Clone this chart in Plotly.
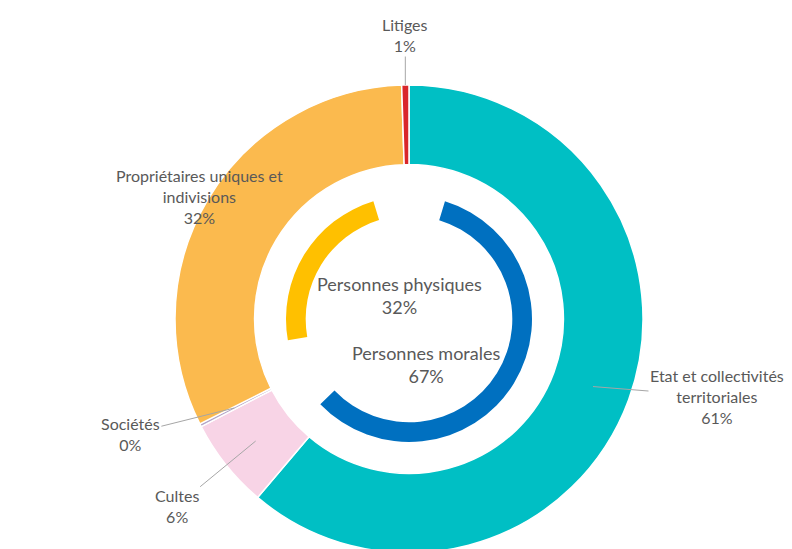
import math
import plotly.graph_objects as go

# ---------------- data ----------------
outer_labels = ["Etat et collectivités<br>territoriales", "Cultes", "Sociétés",
                "Propriétaires uniques et<br>indivisions", "Litiges"]
outer_values = [61.2, 6.2, 0.2, 31.9, 0.5]
outer_pct_text = ["61%", "6%", "0%", "32%", "1%"]
outer_colors = ["#00BFC4", "#F8D4E6", "#B4A7C9", "#FBBA4E", "#D9262B"]

inner_labels = ["Personnes morales", "", "Personnes physiques", ""]
inner_arc = [58.1, 9.4, 23.1, 9.4]
inner_pct_text = ["67%", "", "32%", ""]
inner_colors = ["#0070C0", "rgba(0,0,0,0)", "#FFC000", "rgba(0,0,0,0)"]

# ---------------- geometry / style ----------------
W, H = 792, 549
OFF = 8                    # page body margin
CX, CY = 409, 319          # pie centre in screen px (from top-left)
R_OUT = 234
HOLE_OUT = 0.66
R_IN = 123
HOLE_IN = 0.84
OUTER_ROT = 0
INNER_ROT = 17
TXT = "#595959"
FONT = "Lato"


def to_paper(sx, sy):
    return (sx - OFF) / W, 1 - (sy - OFF) / H


def dom(r):
    x0, y0 = to_paper(CX - r, CY + r)
    x1, y1 = to_paper(CX + r, CY - r)
    return dict(x=[max(0, x0), min(1, x1)], y=[max(0, y0), min(1, y1)])


fig = go.Figure()
fig.add_trace(go.Pie(
    labels=[l.replace("<br>", " ") for l in outer_labels], values=outer_values,
    sort=False, direction="clockwise", rotation=OUTER_ROT, hole=HOLE_OUT,
    marker=dict(colors=outer_colors, line=dict(color="white", width=1.5)),
    textinfo="none", hoverinfo="skip", domain=dom(R_OUT), showlegend=False))
fig.add_trace(go.Pie(
    labels=[l if l else "gap%d" % i for i, l in enumerate(inner_labels)], values=inner_arc,
    sort=False, direction="clockwise", rotation=INNER_ROT, hole=HOLE_IN,
    marker=dict(colors=inner_colors, line=dict(width=0)),
    textinfo="none", hoverinfo="skip", domain=dom(R_IN), showlegend=False))

# label placement (style): anchor radius in px, text offsets in px, arrow or not
label_style = [
    dict(r=196, ax=124, ay=10, arrow=True),      # Etat
    dict(r=196, ax=-79, ay=65, arrow=True),      # Cultes
    dict(r=196, ax=-104, ay=26, arrow=True),     # Sociétés
    dict(r=196, ax=-127, ay=-22, arrow=False),   # Propriétaires
    dict(r=234, ax=0, ay=-50, arrow=True),       # Litiges
]

total = sum(outer_values)
cum = 0
annotations = []
for lab, v, pct, st in zip(outer_labels, outer_values, outer_pct_text, label_style):
    mid = OUTER_ROT + 360 * (cum + v / 2) / total
    cum += v
    th = math.radians(mid)
    sx = CX + st["r"] * math.sin(th)
    sy = CY - st["r"] * math.cos(th)
    x, y = to_paper(sx, sy)
    text = f"{lab}<br>{pct}"
    if st["arrow"]:
        annotations.append(dict(
            x=x, y=y, xref="paper", yref="paper", text=text, showarrow=True,
            ax=st["ax"], ay=st["ay"], arrowhead=0, arrowwidth=1, arrowcolor="#A6A6A6",
            standoff=0, startstandoff=0, align="center",
            font=dict(family=FONT, size=16, color=TXT)))
    else:
        annotations.append(dict(
            x=x, y=y, xref="paper", yref="paper", text=text, showarrow=False,
            xshift=st["ax"], yshift=-st["ay"], align="center",
            font=dict(family=FONT, size=16, color=TXT)))

# centre labels for inner ring
inner_shift = {"Personnes morales": (17, -45), "Personnes physiques": (-9, 24)}
cx_p, cy_p = to_paper(CX, CY)
for lab, pct in zip(inner_labels, inner_pct_text):
    if not lab:
        continue
    xs, ys = inner_shift[lab]
    annotations.append(dict(
        x=cx_p, y=cy_p, xref="paper", yref="paper", text=f"{lab}<br>{pct}",
        showarrow=False, xshift=xs, yshift=ys, align="center",
        font=dict(family=FONT, size=18, color=TXT)))

fig.update_layout(
    width=W, height=H, margin=dict(l=0, r=0, t=0, b=0),
    paper_bgcolor="white", plot_bgcolor="white",
    annotations=annotations, showlegend=False)

fig.write_html("out.html")
